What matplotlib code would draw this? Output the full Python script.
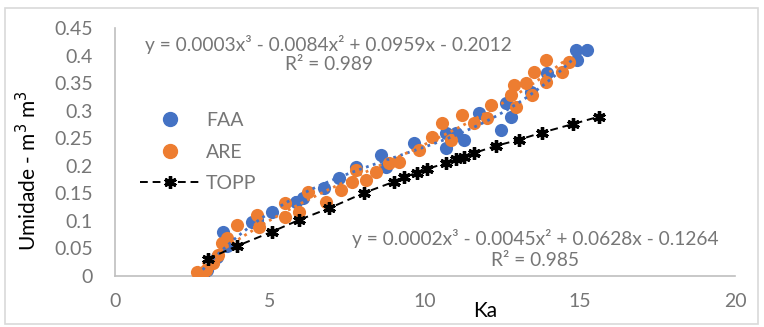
import numpy as np
import matplotlib.pyplot as plt
from matplotlib.lines import Line2D
from matplotlib.patches import Rectangle

plt.rcParams['font.family'] = ['Lato', 'DejaVu Sans']

# FAA readings (Ka, moisture)
faa_ka = [2.83, 2.96, 3.15, 3.28, 3.47, 3.60, 4.41, 4.57, 5.08, 5.85, 6.05, 6.75, 7.23,
          7.78, 8.59, 8.75, 9.65, 10.68, 10.68, 11.0, 11.25, 11.74, 12.44, 12.6, 12.77,
          13.41, 13.92, 14.86, 14.89, 15.21]
faa_th = [0.002, 0.011, 0.025, 0.034, 0.080, 0.054, 0.098, 0.102, 0.116, 0.134, 0.142,
          0.160, 0.178, 0.198, 0.220, 0.198, 0.241, 0.232, 0.260, 0.260, 0.247, 0.296,
          0.265, 0.314, 0.289, 0.334, 0.368, 0.410, 0.392, 0.410]

# ARE readings
are_ka = [2.64, 2.80, 2.93, 3.15, 3.31, 3.44, 3.60, 3.95, 4.57, 4.66, 5.47, 5.47, 5.95,
          6.21, 6.82, 7.30, 7.65, 7.78, 8.10, 8.42, 8.84, 9.16, 9.81, 10.23, 10.55,
          10.84, 11.19, 11.58, 11.99, 12.12, 12.77, 12.93, 12.86, 13.25, 13.50, 13.44,
          13.89, 13.89, 14.41, 14.63]
are_th = [0.007, 0.004, 0.011, 0.024, 0.038, 0.060, 0.069, 0.093, 0.111, 0.089, 0.132,
          0.107, 0.116, 0.152, 0.134, 0.156, 0.171, 0.192, 0.174, 0.189, 0.205, 0.207,
          0.229, 0.252, 0.278, 0.247, 0.292, 0.278, 0.287, 0.310, 0.328, 0.307, 0.347,
          0.350, 0.370, 0.328, 0.392, 0.352, 0.370, 0.388]

# TOPP curve points
topp_ka = [2.99, 3.92, 5.05, 5.95, 6.91, 8.04, 9.0, 9.32, 9.74, 10.06, 10.68, 11.0,
           11.25, 11.58, 12.28, 13.02, 13.76, 14.79, 15.6]
topp_th = [0.031, 0.054, 0.080, 0.102, 0.123, 0.151, 0.171, 0.180, 0.187, 0.194, 0.205,
           0.212, 0.216, 0.223, 0.236, 0.247, 0.260, 0.276, 0.289]

eq_top = 'y = 0.0003x³ - 0.0084x² + 0.0959x - 0.2012'
r2_top = 'R² = 0.989'
eq_bot = 'y = 0.0002x³ - 0.0045x² + 0.0628x - 0.1264'
r2_bot = 'R² = 0.985'

blue = '#4472C4'
orange = '#ED7D31'
grey_txt = '#767676'
W, H = 764, 327

fig = plt.figure(figsize=(W / 100, H / 100), dpi=100)
ax = fig.add_axes([115 / W, 1 - 276 / H, 620 / W, 248 / H])

ax.scatter(faa_ka, faa_th, s=90, color=blue, zorder=3, linewidths=0)
ax.scatter(are_ka, are_th, s=90, color=orange, zorder=4, linewidths=0)

# dotted cubic trendlines
for kx, ky, c in [(faa_ka, faa_th, blue), (are_ka, are_th, orange)]:
    p = np.polyfit(kx, ky, 3)
    xs = np.linspace(min(kx), max(kx), 200)
    ax.plot(xs, np.polyval(p, xs), color=c, ls=(0, (1, 1.6)), lw=2, zorder=5)

ax.plot(topp_ka, topp_th, color='black', ls=(0, (4, 2.5)), lw=1.4,
        marker=(6, 2, 0), ms=9, mew=2.4, zorder=6)

ax.set_xlim(0, 20)
ax.set_ylim(0, 0.45)
ax.set_xticks([0, 5, 10, 15, 20])
ax.set_yticks(np.arange(0, 0.451, 0.05))
ax.set_yticklabels(['0', '0.05', '0.1', '0.15', '0.2', '0.25', '0.3', '0.35', '0.4', '0.45'])
ax.tick_params(length=0, labelsize=14, colors=grey_txt)
ax.tick_params(axis='y', pad=16)
ax.tick_params(axis='x', pad=12)
for side in ['top', 'right']:
    ax.spines[side].set_visible(False)
for side in ['left', 'bottom']:
    ax.spines[side].set_color('#BFBFBF')
    ax.spines[side].set_linewidth(1.2)

fig.text(28 / W, 1 - 171 / H, 'Umidade - m$^3$ m$^3$', rotation=90, ha='center',
         va='center', fontsize=15, color='black')
fig.text(485 / W, 1 - 311 / H, 'Ka', ha='center', va='center', fontsize=15, color='black')

fig.text(328 / W, 1 - 44 / H, eq_top, ha='center', va='center', fontsize=13.8, color=grey_txt)
fig.text(329 / W, 1 - 65 / H, r2_top, ha='center', va='center', fontsize=13.8, color=grey_txt)
fig.text(535 / W, 1 - 238 / H, eq_bot, ha='center', va='center', fontsize=13.8, color=grey_txt)
fig.text(535 / W, 1 - 260 / H, r2_bot, ha='center', va='center', fontsize=13.8, color=grey_txt)

handles = [Line2D([], [], ls='none', marker='o', ms=10, color=blue),
           Line2D([], [], ls='none', marker='o', ms=10, color=orange),
           Line2D([], [], color='black', ls=(0, (4, 2.5)), lw=1.4, marker=(6, 2, 0),
                  ms=9, mew=2.4)]
leg = ax.legend(handles, ['FAA', 'ARE', 'TOPP'], loc='upper left',
                bbox_to_anchor=(0.04, (276 - 112) / 248), frameon=False, fontsize=14,
                handlelength=3.1, handletextpad=0.3, labelspacing=0.75, borderpad=0,
                borderaxespad=0)
for t in leg.get_texts():
    t.set_color(grey_txt)

fig.patches.append(Rectangle((5 / W, 1 - 324 / H), 753 / W, 316 / H,
                             transform=fig.transFigure, fill=False,
                             edgecolor='#D9D9D9', lw=1.2))

fig.savefig('out.png', dpi=100)
